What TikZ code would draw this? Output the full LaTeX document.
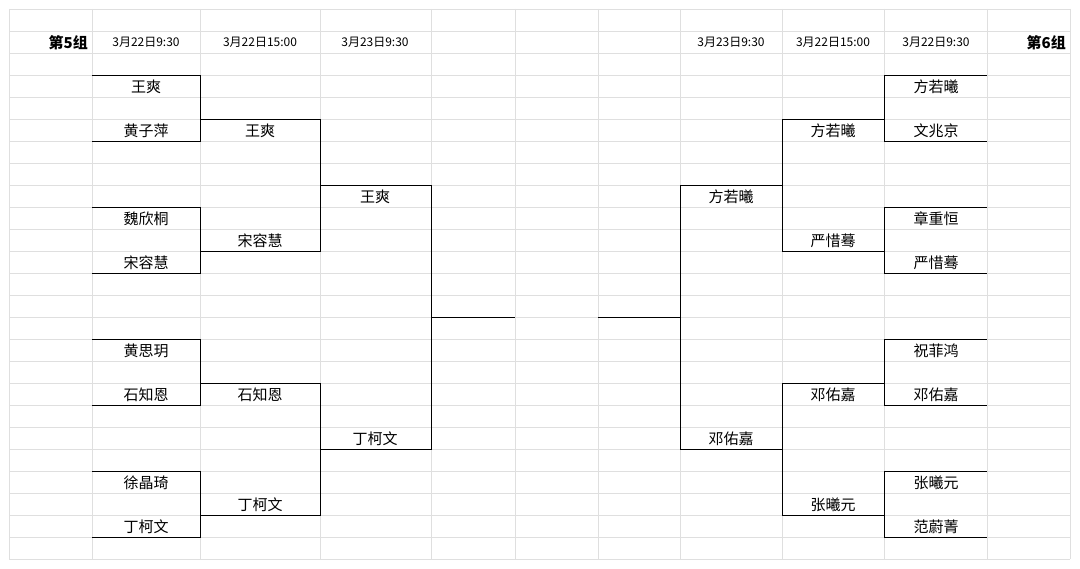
\documentclass[tikz,border=0pt]{standalone}
\usepackage{fontspec}
\setmainfont{Noto Sans CJK SC}
\begin{document}
\begin{tikzpicture}[x=1pt,y=-1pt,
  nm/.style={font=\fontsize{15}{15}\selectfont,inner sep=0pt},
  dt/.style={font=\fontsize{12}{12}\selectfont,inner sep=0pt},
  hd/.style={font=\bfseries\fontsize{15}{15}\selectfont,inner sep=0pt,anchor=east},
  br/.style={line width=0.9pt,black}]
\useasboundingbox (0,0) rectangle (1080,569);
\fill[white] (0,0) rectangle (1080,569);
% grid
\foreach \i in {0,...,25} \draw[gray!25,line width=0.6pt] (9,9+22*\i) -- (1070,9+22*\i);
\foreach \x in {9,92,200,320,431,515,598,680,782,884,987,1070} \draw[gray!25,line width=0.6pt] (\x,9) -- (\x,559);
% headers
\node[hd] (g5) at (88,43) {第5组};
\node[hd] (g6) at (1066,43) {第6组};
\node[dt] (d1) at (146,42) {3月22日9:30};
\node[dt] (d2) at (260,42) {3月22日15:00};
\node[dt] (d3) at (375,42) {3月23日9:30};
\node[dt] (d4) at (731,42) {3月23日9:30};
\node[dt] (d5) at (833,42) {3月22日15:00};
\node[dt] (d6) at (936,42) {3月22日9:30};
% left bracket lines
\draw[br] (92,75) -| (200,141) -- (92,141);
\draw[br] (92,207) -| (200,273) -- (92,273);
\draw[br] (92,339) -| (200,405) -- (92,405);
\draw[br] (92,471) -| (200,537) -- (92,537);
\draw[br] (200,119) -| (320,251) -- (200,251);
\draw[br] (200,383) -| (320,515) -- (200,515);
\draw[br] (320,185) -| (431,449) -- (320,449);
\draw[br] (431,317) -- (515,317);
% right bracket lines
\draw[br] (987,75) -| (884,141) -- (987,141);
\draw[br] (987,207) -| (884,273) -- (987,273);
\draw[br] (987,339) -| (884,405) -- (987,405);
\draw[br] (987,471) -| (884,537) -- (987,537);
\draw[br] (884,119) -| (782,251) -- (884,251);
\draw[br] (884,383) -| (782,515) -- (884,515);
\draw[br] (782,185) -| (680,449) -- (782,449);
\draw[br] (680,317) -- (598,317);
% names left
\node[nm] (a1) at (146,87) {王爽};
\node[nm] (a2) at (146,131) {黄子萍};
\node[nm] (a3) at (146,219) {魏欣桐};
\node[nm] (a4) at (146,263) {宋容慧};
\node[nm] (a5) at (146,351) {黄思玥};
\node[nm] (a6) at (146,395) {石知恩};
\node[nm] (a7) at (146,483) {徐晶琦};
\node[nm] (a8) at (146,527) {丁柯文};
\node[nm] (b1) at (260,131) {王爽};
\node[nm] (b2) at (260,241) {宋容慧};
\node[nm] (b3) at (260,395) {石知恩};
\node[nm] (b4) at (260,505) {丁柯文};
\node[nm] (c1) at (375,197) {王爽};
\node[nm] (c2) at (375,439) {丁柯文};
% names right
\node[nm] (e1) at (936,87) {方若曦};
\node[nm] (e2) at (936,131) {文兆京};
\node[nm] (e3) at (936,219) {章重恒};
\node[nm] (e4) at (936,263) {严惜蓦};
\node[nm] (e5) at (936,351) {祝菲鸿};
\node[nm] (e6) at (936,395) {邓佑嘉};
\node[nm] (e7) at (936,483) {张曦元};
\node[nm] (e8) at (936,527) {范蔚菁};
\node[nm] (f1) at (833,131) {方若曦};
\node[nm] (f2) at (833,241) {严惜蓦};
\node[nm] (f3) at (833,395) {邓佑嘉};
\node[nm] (f4) at (833,505) {张曦元};
\node[nm] (h1) at (731,197) {方若曦};
\node[nm] (h2) at (731,439) {邓佑嘉};
\end{tikzpicture}
\end{document}
